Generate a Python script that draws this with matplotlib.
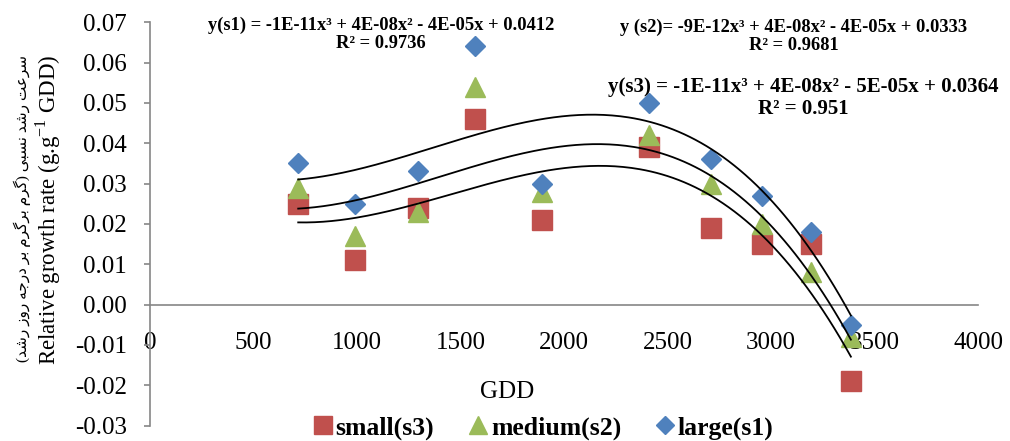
import numpy as np
import matplotlib.pyplot as plt

plt.rcParams['font.family'] = ['Liberation Serif', 'DejaVu Sans']
plt.rcParams['mathtext.fontset'] = 'custom'
plt.rcParams['mathtext.rm'] = 'Liberation Serif'

# data
gdd = [716, 989, 1293, 1568, 1896, 2411, 2712, 2958, 3192, 3386]
small_s3 = [0.025, 0.011, 0.024, 0.046, 0.021, 0.039, 0.019, 0.015, 0.015, -0.019]
medium_s2 = [0.029, 0.017, 0.023, 0.054, 0.028, 0.042, 0.030, 0.020, 0.008, -0.008]
large_s1 = [0.035, 0.025, 0.033, 0.064, 0.030, 0.050, 0.036, 0.027, 0.018, -0.005]

series_names = ['small(s3)', 'medium(s2)', 'large(s1)']
eq_s1 = 'y(s1) = -1E-11x³ + 4E-08x² - 4E-05x + 0.0412\nR² = 0.9736'
eq_s2 = 'y (s2)= -9E-12x³ + 4E-08x² - 4E-05x + 0.0333\nR² = 0.9681'
eq_s3 = 'y(s3) = -1E-11x³ + 4E-08x² - 5E-05x + 0.0364\nR² = 0.951'

ylabel_en = 'Relative growth rate (g.g$^{-1}$ GDD)'
ylabel_fa = 'سرعت رشد نسبی (گرم برگرم بر درجه روز رشد)'

# simple persian shaping (presentation forms) + visual order
FORMS = {
    'س': '\uFEB1\uFEB2\uFEB3\uFEB4', 'ش': '\uFEB5\uFEB6\uFEB7\uFEB8',
    'ع': '\uFEC9\uFECA\uFECB\uFECC', 'ت': '\uFE95\uFE96\uFE97\uFE98',
    'ن': '\uFEE5\uFEE6\uFEE7\uFEE8', 'ب': '\uFE8F\uFE90\uFE91\uFE92',
    'ی': '\uFBFC\uFBFD\uFBFE\uFBFF', 'گ': '\uFB92\uFB93\uFB94\uFB95',
    'م': '\uFEE1\uFEE2\uFEE3\uFEE4', 'ج': '\uFE9D\uFE9E\uFE9F\uFEA0',
    'ه': '\uFEE9\uFEEA\uFEEB\uFEEC',
    'ر': '\uFEAD\uFEAE', 'د': '\uFEA9\uFEAA', 'و': '\uFEED\uFEEE', 'ز': '\uFEAF\uFEB0',
}


def shape_fa(text):
    out = []
    for i, ch in enumerate(text):
        f = FORMS.get(ch)
        if f is None:
            out.append(ch)
            continue
        prev = text[i - 1] if i > 0 else ''
        nxt = text[i + 1] if i + 1 < len(text) else ''
        a = prev in FORMS and len(FORMS[prev]) == 4
        b = nxt in FORMS and len(f) == 4
        if a and b:
            out.append(f[3])
        elif a:
            out.append(f[1])
        elif b:
            out.append(f[2])
        else:
            out.append(f[0])
    vis = ''.join(reversed(out))
    return vis.translate(str.maketrans('()', ')('))


red = '#C0504D'
green = '#9BBB59'
blue = '#4F81BD'
grey = '#868686'

fig = plt.figure(figsize=(10.1, 4.41), dpi=100)
ax = fig.add_axes([150 / 1010, 15.5 / 441, 828 / 1010, 403.2 / 441])

h1, = ax.plot(gdd, small_s3, 's', color=red, markersize=14, label=series_names[0], zorder=3)
h2, = ax.plot(gdd, medium_s2, '^', color=green, markersize=14, label=series_names[1], zorder=4)
h3, = ax.plot(gdd, large_s1, 'D', color=blue, markersize=10.5, label=series_names[2], zorder=5)

# cubic trendlines
xs = np.linspace(min(gdd), max(gdd), 200)
for ys in (small_s3, medium_s2, large_s1):
    c = np.polyfit(gdd, ys, 3)
    ax.plot(xs, np.polyval(c, xs), color='black', lw=1.3, zorder=6)

ax.set_xlim(0, 4000)
ax.set_ylim(-0.03, 0.07)
ax.set_xticks(np.arange(0, 4001, 500))
ax.set_yticks(np.arange(-0.03, 0.0701, 0.01))
ax.yaxis.set_major_formatter(plt.FormatStrFormatter('%.2f'))

for s in ['top', 'right']:
    ax.spines[s].set_visible(False)
ax.spines['bottom'].set_position(('data', 0))
ax.spines['left'].set_color(grey)
ax.spines['bottom'].set_color(grey)
ax.spines['left'].set_linewidth(1.2)
ax.spines['bottom'].set_linewidth(1.2)
ax.tick_params(axis='y', direction='out', length=4.5, width=1.2, color=grey, labelsize=18, pad=12)
ax.tick_params(axis='x', length=0, labelsize=18, pad=20)

ax.set_xlabel('GDD', fontsize=18)
ax.xaxis.label.set_va('center')
ax.xaxis.set_label_coords((507 - 150) / 828, (425.5 - 392) / 403.2)

fig.text(48 / 1010, 1 - 210 / 441, ylabel_en, rotation=90, fontsize=16.5, ha='center', va='center')
fig.text(22 / 1010, 1 - 209 / 441, shape_fa(ylabel_fa), rotation=90, fontsize=11,
         ha='center', va='center')

eq_kw = dict(ha='center', va='center', fontweight='bold', multialignment='center', linespacing=1.1)
fig.text(381 / 1010, 1 - 34 / 441, eq_s1, fontsize=13.3, **eq_kw)
fig.text(794 / 1010, 1 - 36 / 441, eq_s2, fontsize=13.3, **eq_kw)
fig.text(803 / 1010, 1 - 98 / 441, eq_s3, fontsize=15, **eq_kw)

fig.legend(handles=[h1, h2, h3], loc='center', bbox_to_anchor=(543 / 1010, 1 - 428 / 441), ncol=3,
           frameon=False, prop={'weight': 'bold', 'size': 18.5}, handlelength=0.8,
           handletextpad=0.1, columnspacing=1.3, markerscale=0.9)

fig.savefig('out.png', dpi=100)
